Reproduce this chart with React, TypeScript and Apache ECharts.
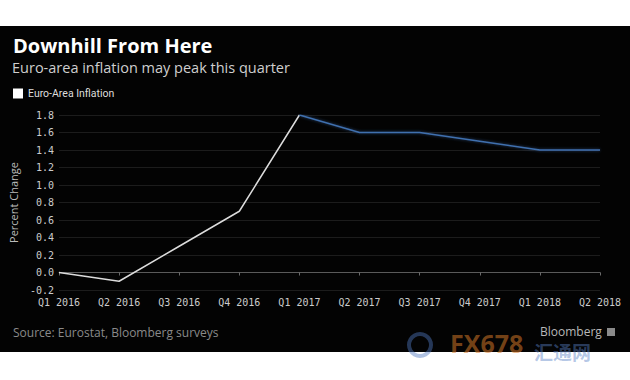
import React, { useEffect, useRef } from "react";
import * as echarts from "echarts";

const categories = ["Q1 2016", "Q2 2016", "Q3 2016", "Q4 2016", "Q1 2017", "Q2 2017", "Q3 2017", "Q4 2017", "Q1 2018", "Q2 2018"];
const actualValues = [0.0, -0.1, 0.3, 0.7, 1.8, null, null, null, null, null];
const forecastValues = [null, null, null, null, 1.8, 1.6, 1.6, 1.5, 1.4, 1.4];
const seriesName = "Euro-Area Inflation";
const titleText = "Downhill From Here";
const subtitleText = "Euro-area inflation may peak this quarter";
const sourceText = "Source: Eurostat, Bloomberg surveys";

const MONO = "'DejaVu Sans Mono', 'Liberation Mono', monospace";
const SANS = "'Open Sans', 'Noto Sans', sans-serif";

export default function App() {
  const ref = useRef<HTMLDivElement>(null);
  useEffect(() => {
    if (!ref.current) return;
    const chart = echarts.init(ref.current, null, { renderer: "svg" });
    chart.setOption({
      animation: false,
      backgroundColor: "#ffffff",
      graphic: [
        { type: "rect", left: 0, top: 26, z: -10, shape: { width: 630, height: 326 }, style: { fill: "#030303" } },
        { type: "text", left: 13, top: 35, style: { text: titleText, fill: "#ffffff", font: `bold 20px ${SANS}` } },
        { type: "text", left: 12, top: 60, style: { text: subtitleText, fill: "#cfcfcf", font: `14.5px ${SANS}` } },
        { type: "text", left: 13, top: 326, style: { text: sourceText, fill: "#8a8a8a", font: `12px ${SANS}` } },
        { type: "text", left: 540, top: 325, style: { text: "Bloomberg", fill: "#b8b8b8", font: `12px ${SANS}` } },
        { type: "rect", left: 607, top: 328, shape: { width: 8, height: 8 }, style: { fill: "#8a8a8a" } },
        { type: "ring", left: 407, top: 332, shape: { r: 13, r0: 9 }, style: { fill: "rgba(80,120,190,0.45)" } },
        { type: "text", left: 450, top: 330, style: { text: "FX678", fill: "rgba(215,120,40,0.55)", font: `bold 25px ${SANS}` } },
        { type: "text", left: 534, top: 342, style: { text: "汇通网", fill: "rgba(90,130,200,0.45)", font: `bold 19px 'Noto Sans CJK SC', sans-serif` } },
      ],
      legend: {
        data: [seriesName],
        left: 8,
        top: 83,
        icon: "rect",
        itemWidth: 10,
        itemHeight: 10,
        itemGap: 4,
        textStyle: { color: "#dddddd", fontFamily: "Roboto, sans-serif", fontSize: 10.5 },
      },
      grid: { left: 48, right: 30, top: 115, bottom: 90 },
      xAxis: {
        type: "category",
        data: categories,
        boundaryGap: false,
        axisLine: { lineStyle: { color: "#5a5a5a", width: 1 } },
        axisTick: { show: true, length: 3, lineStyle: { color: "#6a6a6a" } },
        axisLabel: { color: "#cccccc", fontFamily: MONO, fontSize: 10, margin: 7 },
        splitLine: { show: false },
      },
      yAxis: {
        type: "value",
        min: -0.2,
        max: 1.8,
        interval: 0.2,
        name: "Percent Change",
        nameLocation: "middle",
        nameRotate: 90,
        nameGap: 30,
        nameTextStyle: { color: "#bbbbbb", fontFamily: SANS, fontSize: 11, padding: [0, 0, 0, 0] },
        axisLine: { show: false },
        axisTick: { show: false },
        axisLabel: {
          color: "#cccccc",
          fontFamily: MONO,
          fontSize: 10,
          margin: 5,
          formatter: (v: number) => v.toFixed(1),
        },
        splitLine: { lineStyle: { color: "#1c1c1c", width: 1 } },
      },
      series: [
        {
          name: seriesName,
          type: "line",
          data: actualValues,
          symbol: "none",
          itemStyle: { color: "#ffffff" },
          lineStyle: { color: "#dcdcdc", width: 1.5 },
          connectNulls: false,
        },
        {
          name: "Forecast",
          type: "line",
          data: forecastValues,
          symbol: "none",
          itemStyle: { color: "#3b6aa6" },
          lineStyle: { color: "#3f6fae", width: 1.5, shadowColor: "rgba(60,110,180,0.6)", shadowBlur: 3 },
          connectNulls: false,
        },
      ],
    });
    return () => chart.dispose();
  }, []);
  return <div ref={ref} style={{ position: "fixed", left: 0, top: 0, width: 630, height: 380 }} />;
}
